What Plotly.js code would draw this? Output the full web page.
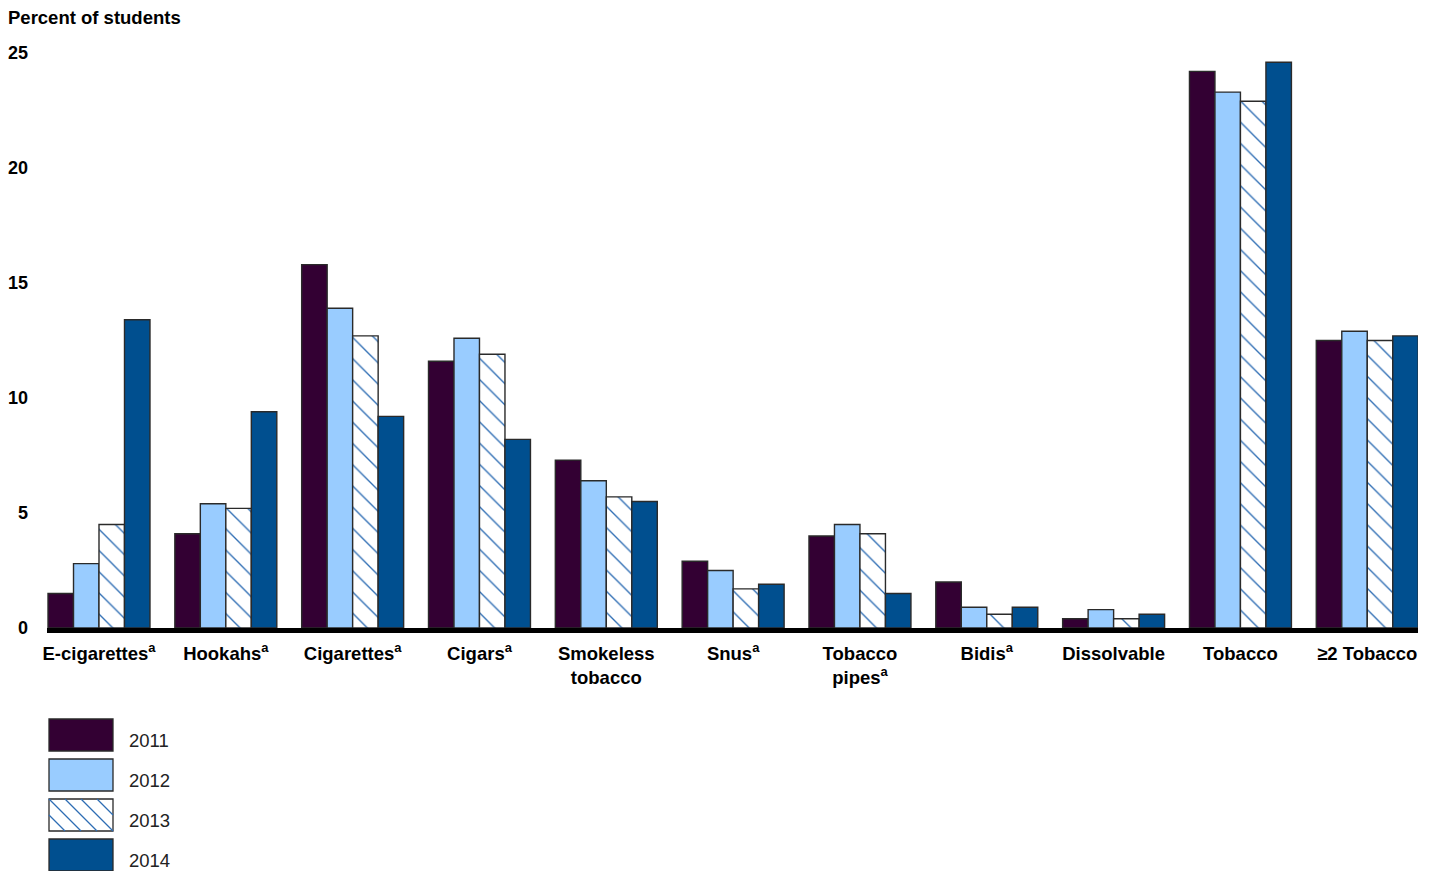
<!DOCTYPE html>
<html>
<head>
<meta charset="utf-8">
<script src="https://cdn.plot.ly/plotly-3.0.1.min.js"></script>
<style>html,body{margin:0;padding:0;background:#fff;}#chart{width:1434px;height:871px;}</style>
</head>
<body>
<div id="chart"></div>
<script>
const categories = ["E-cigarettes<sup>a</sup>", "Hookahs<sup>a</sup>", "Cigarettes<sup>a</sup>", "Cigars<sup>a</sup>", "Smokeless<br>tobacco", "Snus<sup>a</sup>", "Tobacco<br>pipes<sup>a</sup>", "Bidis<sup>a</sup>", "Dissolvable", "Tobacco", "≥2 Tobacco"];
const years = ["2011", "2012", "2013", "2014"];
const v2011 = [1.5, 4.1, 15.8, 11.6, 7.3, 2.9, 4.0, 2.0, 0.4, 24.2, 12.5];
const v2012 = [2.8, 5.4, 13.9, 12.6, 6.4, 2.5, 4.5, 0.9, 0.8, 23.3, 12.9];
const v2013 = [4.5, 5.2, 12.7, 11.9, 5.7, 1.7, 4.1, 0.6, 0.4, 22.9, 12.5];
const v2014 = [13.4, 9.4, 9.2, 8.2, 5.5, 1.9, 1.5, 0.9, 0.6, 24.6, 12.7];
const yTicks = [0, 5, 10, 15, 20, 25];

const series = [v2011, v2012, v2013, v2014];
const fills = ["#330033", "#99ccff", "#ffffff", "#004f8f"];
const HATCH = "#2e6db4";
const FONT = "Liberation Sans, Arial, sans-serif";

const traces = series.map((vals, i) => {
  const marker = {color: fills[i], line: {color: "#2a2a2a", width: 1.4}};
  if (i === 2) {
    marker.pattern = {shape: "\\", fgcolor: HATCH, bgcolor: "#ffffff", size: 15, solidity: 0.09, fillmode: "replace"};
  }
  return {type: "bar", name: years[i], x: categories, y: vals, marker: marker, showlegend: false, hoverinfo: "x+y"};
});

// layout geometry (pixels)
const W = 1434, H = 871, L = 47, R = 16, T = 53, B = 243;
const pw = W - L - R, ph = H - T - B;
const px = x => (x - L) / pw;
const py = y => (H - B - y) / ph;

const shapes = [];
const annotations = [];
const swatchTop = [719, 759, 799, 839];
years.forEach((yr, i) => {
  const x0 = 49, x1 = 113, y0 = swatchTop[i], y1 = swatchTop[i] + 32;
  shapes.push({type: "rect", xref: "paper", yref: "paper", x0: px(x0), x1: px(x1), y0: py(y1), y1: py(y0),
    fillcolor: fills[i], line: {color: "#2a2a2a", width: 1.3}, layer: "above"});
  if (i === 2) {
    // diagonal hatch lines "\" clipped to the swatch
    const h = y1 - y0;
    for (let k = x0 - h; k < x1; k += 16) {
      let ax = k, ay = y0, bx = k + h, by = y1;
      if (ax < x0) { ay = y0 + (x0 - ax); ax = x0; }
      if (bx > x1) { by = y1 - (bx - x1); bx = x1; }
      if (bx - ax < 1) continue;
      shapes.push({type: "line", xref: "paper", yref: "paper", x0: px(ax), y0: py(ay), x1: px(bx), y1: py(by),
        line: {color: HATCH, width: 1.2}, layer: "above"});
    }
  }
  annotations.push({xref: "paper", yref: "paper", x: px(127), y: py(y0 + 21), xanchor: "left", yanchor: "middle",
    text: yr, showarrow: false, font: {family: FONT, size: 18.5, color: "#222222"}});
});

annotations.push({xref: "paper", yref: "paper", x: px(6), y: py(17), xanchor: "left", yanchor: "middle",
  text: "<b>Percent of students</b>", showarrow: false, font: {family: FONT, size: 18.5, color: "#000000"}});

const layout = {
  width: W, height: H,
  margin: {l: L, r: R, t: T, b: B, pad: 0},
  paper_bgcolor: "#ffffff", plot_bgcolor: "#ffffff",
  barmode: "group", bargap: 0.196, bargroupgap: 0,
  font: {family: FONT, color: "#000000"},
  xaxis: {
    type: "category", range: [-0.41, 10.40], showline: true, linecolor: "#000000", linewidth: 5,
    showgrid: false, zeroline: false, ticks: "", tickangle: 0,
    tickfont: {family: FONT, size: 18.5, color: "#000000", weight: 700}, ticklabelstandoff: 5
  },
  yaxis: {
    range: [0, 25], tickvals: yTicks, ticktext: yTicks.map(String), showline: false, showgrid: false, zeroline: false,
    ticks: "", tickfont: {family: FONT, size: 18, color: "#000000", weight: 700}, ticklabelstandoff: 18
  },
  shapes: shapes,
  annotations: annotations
};

Plotly.newPlot("chart", traces, layout, {displayModeBar: false, staticPlot: true});
</script>
</body>
</html>
